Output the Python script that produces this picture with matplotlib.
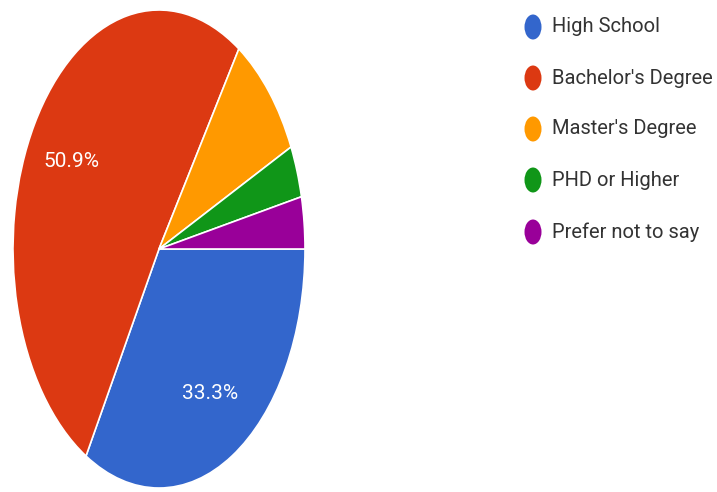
import matplotlib
matplotlib.use("Agg")
import matplotlib.pyplot as plt
from matplotlib.patches import Ellipse
from matplotlib import font_manager

categories = ["High School", "Bachelor's Degree", "Master's Degree", "PHD or Higher", "Prefer not to say"]
counts = [19, 29, 5, 2, 2]
colors = ["#3366CC", "#DC3912", "#FF9900", "#109618", "#990099"]

names = {f.name for f in font_manager.fontManager.ttflist}
FONT = ["Liberation Sans Narrow"] if "Liberation Sans Narrow" in names else ["Roboto"]
NARROW = FONT[0] == "Liberation Sans Narrow"

W, H = 717, 492
fig = plt.figure(figsize=(W / 100, H / 100), dpi=100)
fig.patch.set_facecolor("white")

left, right, top, bottom = 13, 305, 10, 488
ax = fig.add_axes([left / W, 1 - bottom / H, (right - left) / W, (bottom - top) / H])

def fmt(p):
    return f"{p:.1f}%" if p > 10 else ""

wedges, texts, autotexts = ax.pie(
    counts, colors=colors, startangle=0, counterclock=False,
    autopct=fmt, pctdistance=0.70,
    wedgeprops=dict(edgecolor="white", linewidth=1.2),
    textprops=dict(color="white", fontsize=(17 if NARROW else 15), family=FONT),
)
ax.set_aspect("auto")
ax.set_xlim(-1, 1)
ax.set_ylim(-1, 1)
ax.axis("off")

leg_ax = fig.add_axes([0, 0, 1, 1])
leg_ax.set_xlim(0, W)
leg_ax.set_ylim(H, 0)
leg_ax.axis("off")
ys = [27, 78, 129, 180, 232]
for y, c, lab in zip(ys, colors, categories):
    leg_ax.add_patch(Ellipse((533, y), 17, 25, facecolor=c, edgecolor="none"))
    leg_ax.text(552, y, lab, fontsize=(17 if NARROW else 14.5), family=FONT,
                color="#333333", va="center", ha="left")

fig.savefig("out.png", dpi=100, facecolor="white")
